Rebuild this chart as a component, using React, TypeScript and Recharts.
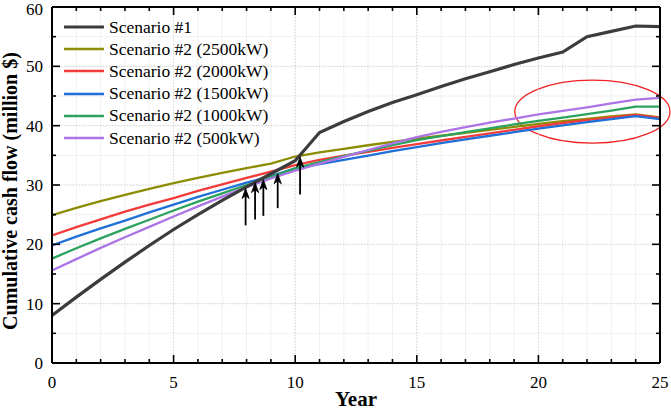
import {
  CartesianGrid,
  Label,
  Legend,
  Line,
  LineChart,
  ReferenceArea,
  ReferenceLine,
  XAxis,
  YAxis,
} from 'recharts';

const years = [0, 1, 2, 3, 4, 5, 6, 7, 8, 9, 10, 11, 12, 13, 14, 15, 16, 17, 18, 19, 20, 21, 22, 23, 24, 25];

// cumulative cash flow, million $
const scenario1 = [8.0, 11.1, 14.1, 17.0, 19.8, 22.5, 25.0, 27.4, 29.7, 31.9, 34.1, 38.85, 40.7, 42.4, 43.9, 45.2, 46.6, 47.9, 49.1, 50.3, 51.4, 52.4, 55.0, 55.9, 56.8, 56.7];
const s2500 = [24.9, 26.15, 27.3, 28.35, 29.35, 30.3, 31.2, 32.05, 32.85, 33.6, 34.8, 35.5, 36.1, 36.7, 37.25, 37.8, 38.3, 38.8, 39.3, 39.8, 40.3, 40.75, 41.15, 41.55, 41.9, 41.4];
const s2000 = [21.5, 22.9, 24.2, 25.5, 26.7, 27.8, 29.0, 30.1, 31.2, 32.25, 33.35, 34.25, 34.95, 35.6, 36.25, 36.9, 37.5, 38.1, 38.7, 39.3, 39.9, 40.45, 40.95, 41.4, 41.8, 41.3];
const s1500 = [19.8, 21.3, 22.7, 24.0, 25.4, 26.7, 28.0, 29.2, 30.4, 31.5, 32.8, 33.5, 34.25, 34.95, 35.7, 36.4, 37.05, 37.7, 38.3, 38.9, 39.5, 40.05, 40.6, 41.1, 41.6, 41.1];
const s1000 = [17.6, 19.35, 21.0, 22.6, 24.15, 25.7, 27.2, 28.6, 30.0, 31.35, 32.8, 33.85, 34.85, 35.8, 36.7, 37.55, 38.25, 38.9, 39.55, 40.2, 40.8, 41.35, 41.95, 42.55, 43.2, 43.2];
const s500 = [15.6, 17.5, 19.4, 21.2, 22.95, 24.7, 26.4, 28.05, 29.65, 31.1, 32.4, 33.6, 34.75, 35.9, 37.0, 38.05, 38.95, 39.75, 40.5, 41.2, 41.9, 42.5, 43.1, 43.75, 44.4, 44.7];

// ticks: every year / every 5 units, labels on the major ones
const xTicks = years;
const yTicks = [0, 5, 10, 15, 20, 25, 30, 35, 40, 45, 50, 55, 60];
const xMajorGrid = [5, 10, 15, 20];
const yMajorGrid = [10, 20, 30, 40, 50];

// payback arrows (year, tail value, tip value)
const arrowYears = [7.96, 8.35, 8.69, 9.28, 10.2];
const arrowTails = [23.2, 24.2, 24.8, 26.1, 28.4];
const arrowTips = [29.4, 30.4, 30.9, 31.9, 34.7];

// highlighted region (ellipse bounds)
const ellipseYears = [19.03, 25.41];
const ellipseValues = [37.05, 47.67];

const serif = '"Liberation Serif", "Times New Roman", serif';

const series = [
  { key: 's1', name: 'Scenario #1', color: '#3c3c3c', width: 3.2, values: scenario1 },
  { key: 's2500', name: 'Scenario #2 (2500kW)', color: '#8c8c00', width: 2.3, values: s2500 },
  { key: 's2000', name: 'Scenario #2 (2000kW)', color: '#f23b3b', width: 2.3, values: s2000 },
  { key: 's1500', name: 'Scenario #2 (1500kW)', color: '#1f6fd8', width: 2.3, values: s1500 },
  { key: 's1000', name: 'Scenario #2 (1000kW)', color: '#2ca25f', width: 2.3, values: s1000 },
  { key: 's500', name: 'Scenario #2 (500kW)', color: '#ac74e6', width: 2.3, values: s500 },
];

const data = years.map((year, i) => {
  const row: Record<string, number> = { year };
  series.forEach((s) => {
    row[s.key] = s.values[i];
  });
  return row;
});

// draw order: colored lines first, black on top
const drawOrder = [...series.slice(1), series[0]];

const tickLen = (v: number, step: number) => (v % step === 0 ? 8 : 4);

// inward ticks; with tickSize 0 / tickMargin 0 the (x, y) handed in sits on the axis line
const BottomTick = (p: any) => {
  const v = p.payload.value;
  return (
    <g>
      <line x1={p.x} x2={p.x} y1={p.y} y2={p.y - tickLen(v, 5)} stroke="#000" strokeWidth={1.6} />
      {v % 5 === 0 && (
        <text x={p.x} y={p.y + 25} textAnchor="middle" fontFamily={serif} fontSize={17} fill="#000">
          {v}
        </text>
      )}
    </g>
  );
};

const TopTick = (p: any) => (
  <line x1={p.x} x2={p.x} y1={p.y} y2={p.y + tickLen(p.payload.value, 5)} stroke="#000" strokeWidth={1.6} />
);

const LeftTick = (p: any) => {
  const v = p.payload.value;
  // keep the top label inside the picture
  const nudge = v === 60 ? 2 : 0;
  return (
    <g>
      <line x1={p.x} x2={p.x + tickLen(v, 10)} y1={p.y} y2={p.y} stroke="#000" strokeWidth={1.6} />
      {v % 10 === 0 && (
        <text x={p.x - 9} y={p.y + 6 + nudge} textAnchor="end" fontFamily={serif} fontSize={17} fill="#000">
          {v}
        </text>
      )}
    </g>
  );
};

const RightTick = (p: any) => (
  <line x1={p.x} x2={p.x - tickLen(p.payload.value, 10)} y1={p.y} y2={p.y} stroke="#000" strokeWidth={1.6} />
);

const Arrow = (p: any) => {
  const { x1, y1, x2, y2 } = p;
  const head = 10;
  return (
    <g>
      <line x1={x1} y1={y1} x2={x2} y2={y2 + 4} stroke="#000" strokeWidth={1.8} />
      <path
        d={`M${x2},${y2} L${x2 - 3.6},${y2 + head} L${x2},${y2 + head - 3} L${x2 + 3.6},${y2 + head} Z`}
        fill="#000"
        stroke="#000"
        strokeWidth={0.8}
      />
    </g>
  );
};

const Ellipse = (p: any) => (
  <ellipse
    cx={p.x + p.width / 2}
    cy={p.y + p.height / 2}
    rx={Math.abs(p.width) / 2}
    ry={Math.abs(p.height) / 2}
    fill="none"
    stroke="#ee2222"
    strokeWidth={1.3}
  />
);

const renderLegend = () => (
  <div style={{ fontFamily: serif, fontSize: 17.5, color: '#000' }}>
    {series.map((s) => (
      <div key={s.key} style={{ display: 'flex', alignItems: 'center', height: 22.2, whiteSpace: 'nowrap' }}>
        <svg width={40} height={10} style={{ display: 'block' }}>
          <line x1={0} x2={40} y1={5} y2={5} stroke={s.color} strokeWidth={s.width} />
        </svg>
        <span style={{ marginLeft: 5 }}>{s.name}</span>
      </div>
    ))}
  </div>
);

const axisLine = { stroke: '#000', strokeWidth: 2 };

export default function App() {
  return (
    <div style={{ position: 'absolute', left: 0, top: 0, width: 671, height: 411, background: '#fff' }}>
      <LineChart width={671} height={411} data={data} margin={{ top: 6, right: 10, bottom: 0, left: 0 }}>
        <XAxis
          xAxisId="x"
          dataKey="year"
          type="number"
          domain={[0, 25]}
          allowDataOverflow
          ticks={xTicks}
          interval={0}
          height={48}
          tickSize={0}
          tickMargin={0}
          tickLine={false}
          tick={BottomTick}
          axisLine={axisLine}
        >
          <Label
            content={(p: any) => {
              const vb = p.viewBox;
              return (
                <text x={vb.x + vb.width / 2} y={vb.y + 43} textAnchor="middle" fontFamily={serif} fontWeight="bold" fontSize={21} fill="#000">
                  Year
                </text>
              );
            }}
          />
        </XAxis>
        <XAxis
          xAxisId="xt"
          orientation="top"
          dataKey="year"
          type="number"
          domain={[0, 25]}
          allowDataOverflow
          ticks={xTicks}
          interval={0}
          height={1}
          tickSize={0}
          tickMargin={0}
          tickLine={false}
          tick={TopTick}
          axisLine={axisLine}
        />
        <YAxis
          yAxisId="y"
          type="number"
          domain={[0, 60]}
          allowDataOverflow
          ticks={yTicks}
          interval={0}
          width={52}
          tickSize={0}
          tickMargin={0}
          tickLine={false}
          tick={LeftTick}
          axisLine={axisLine}
        >
          <Label
            content={(p: any) => {
              const vb = p.viewBox;
              const cx = vb.x + vb.width - 35;
              const cy = vb.y + vb.height / 2 + 6;
              return (
                <text x={cx} y={cy} transform={`rotate(-90 ${cx} ${cy})`} textAnchor="middle" fontFamily={serif} fontWeight="bold" fontSize={20} fill="#000">
                  Cumulative cash flow (million $)
                </text>
              );
            }}
          />
        </YAxis>
        <YAxis
          yAxisId="yr"
          orientation="right"
          type="number"
          domain={[0, 60]}
          allowDataOverflow
          ticks={yTicks}
          interval={0}
          width={1}
          tickSize={0}
          tickMargin={0}
          tickLine={false}
          tick={RightTick}
          axisLine={axisLine}
        />

        <CartesianGrid xAxisId="x" yAxisId="y" stroke="#f0f0f0" strokeWidth={1} />
        {xMajorGrid.map((v) => (
          <ReferenceLine key={`gx-${v}`} xAxisId="x" yAxisId="y" x={v} stroke="#d2d2d2" strokeDasharray="1 2" />
        ))}
        {yMajorGrid.map((v) => (
          <ReferenceLine key={`gy-${v}`} xAxisId="x" yAxisId="y" y={v} stroke="#d2d2d2" strokeDasharray="1 2" />
        ))}

        <Legend layout="vertical" align="center" verticalAlign="middle" content={renderLegend} wrapperStyle={{ top: 16, left: 64, width: 'auto', height: 'auto' }} />

        {drawOrder.map((s) => (
          <Line
            key={s.key}
            xAxisId="x"
            yAxisId="y"
            type="linear"
            dataKey={s.key}
            name={s.name}
            stroke={s.color}
            strokeWidth={s.width}
            dot={false}
            activeDot={false}
            isAnimationActive={false}
          />
        ))}

        {arrowYears.map((yr, i) => (
          <ReferenceLine
            key={`arrow-${i}`}
            xAxisId="x"
            yAxisId="y"
            segment={[
              { x: yr, y: arrowTails[i] },
              { x: yr, y: arrowTips[i] },
            ]}
            ifOverflow="visible"
            shape={Arrow}
          />
        ))}

        <ReferenceArea
          xAxisId="x"
          yAxisId="y"
          x1={ellipseYears[0]}
          x2={ellipseYears[1]}
          y1={ellipseValues[0]}
          y2={ellipseValues[1]}
          ifOverflow="visible"
          shape={Ellipse}
        />
      </LineChart>
    </div>
  );
}
